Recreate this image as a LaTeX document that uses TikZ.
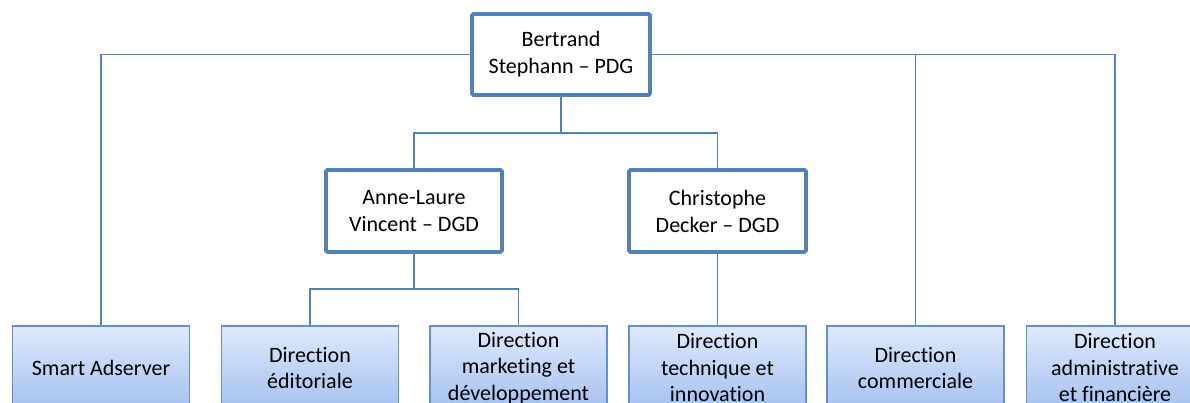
\documentclass[tikz,border=0pt]{standalone}
\usepackage{fontspec}
\setmainfont{Carlito}[RawFeature={-liga;-clig;-calt;-dlig}]
\definecolor{bossblue}{RGB}{79,129,189}
\definecolor{linkblue}{RGB}{79,129,189}
\definecolor{deptedge}{RGB}{100,145,205}
\definecolor{depttop}{RGB}{222,233,252}
\definecolor{deptbot}{RGB}{164,193,240}
\tikzset{
  chief/.style={draw=bossblue, line width=3.6pt, fill=white, rounded corners=1.5pt,
    minimum width=178pt, minimum height=81pt, inner sep=2pt, align=center,
    font=\fontsize{22}{27}\selectfont},
  dept/.style={draw=deptedge, line width=1.3pt, top color=depttop, bottom color=deptbot,
    minimum width=177pt, minimum height=84pt, inner sep=2pt, align=center,
    font=\fontsize{22}{26.5}\selectfont},
  link/.style={draw=linkblue, line width=1.4pt}
}
\begin{document}
\begin{tikzpicture}[x=1pt,y=-1pt]
\useasboundingbox (0,0) rectangle (1190,403);
\clip (0,0) rectangle (1190,403);
% nodes
\node[chief] (pdg) at (561,54.5) {Bertrand\\Stephann – PDG};
\node[chief, minimum width=176pt, minimum height=82pt] (al) at (414,211) {Anne-Laure\\Vincent – DGD};
\node[chief, minimum width=177pt, minimum height=82pt] (cd) at (717.5,211) {Christophe\\Decker – DGD};
\node[dept] (sa) at (101,368) {Smart Adserver};
\node[dept] (ed) at (310,368) {Direction\\éditoriale};
\node[dept] (mk) at (518.5,368) {Direction\\marketing et\\développement};
\node[dept] (ti) at (717.5,368) {Direction\\technique et\\innovation};
\node[dept] (co) at (915.5,368) {Direction\\commerciale};
\node[dept] (af) at (1115,368) {Direction\\administrative\\et financière};
% helper coordinates
\coordinate (j1) at (pdg.south |- 0,133);
\coordinate (j2) at (al.south |- 0,289);
% connectors
\draw[link] (pdg.west) -| (sa.north);
\draw[link] (pdg.east) -| (co.north);
\draw[link] (pdg.east) -| (af.north);
\draw[link] (pdg.south) -- (j1) -| (al.north);
\draw[link] (j1) -| (cd.north);
\draw[link] (al.south) -- (j2) -| (ed.north);
\draw[link] (j2) -| (mk.north);
\draw[link] (cd.south) -- (ti.north);
\end{tikzpicture}
\end{document}
